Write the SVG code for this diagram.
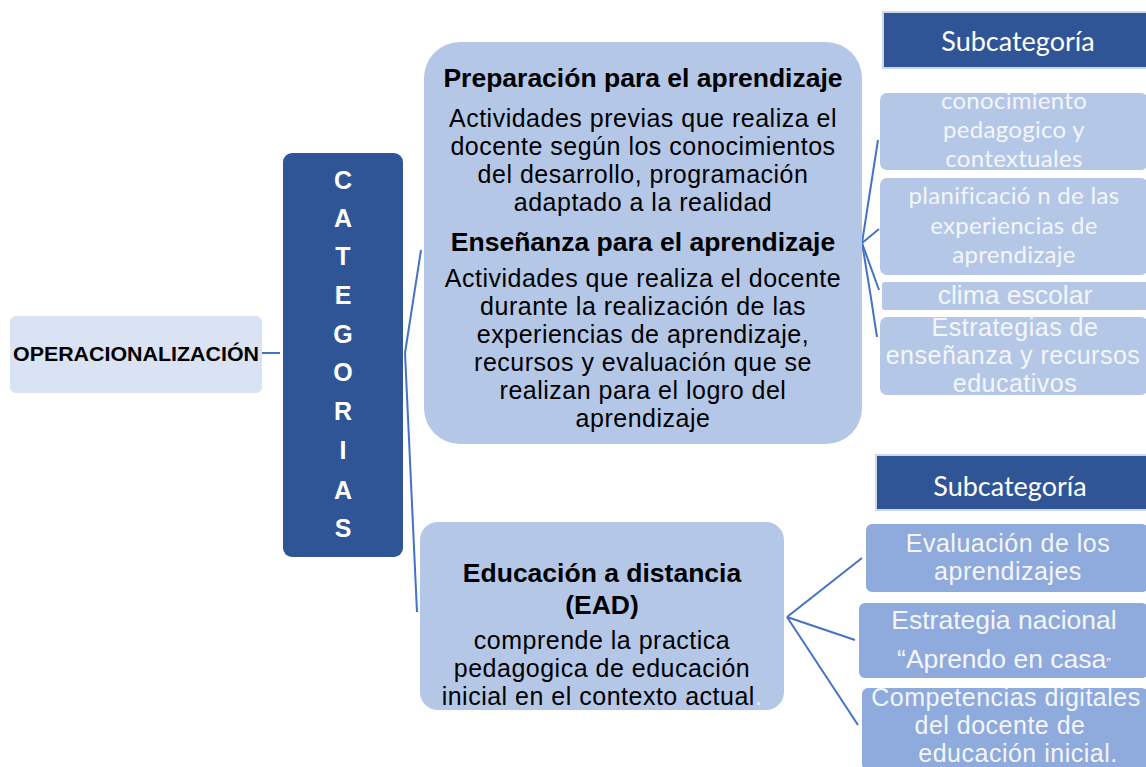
<svg xmlns="http://www.w3.org/2000/svg" width="1146" height="767" viewBox="0 0 1146 767">
<style>
.ar{font-family:"Liberation Sans",Arial,sans-serif;}
.cal{font-family:Lato,"Open Sans",sans-serif;}
.blk{fill:#000;}
.wht{fill:#f4f6fb;}
.b{font-weight:bold;}
.t26{font-size:26.5px;}
.t25{font-size:25px;letter-spacing:0.5px;}
.conn{fill:none;stroke:#4472c4;stroke-width:2;}
.dark{fill:#2f5597;}
.mid{fill:#b4c7e7;}
.med{fill:#8faadc;}
</style>
<rect width="1146" height="767" fill="#ffffff"/>
<g id="connectors">
<line class="conn" x1="262" y1="353" x2="280" y2="353"/>
<path class="conn" d="M405,353 L421,250"/>
<path class="conn" d="M405,353 L417,612"/>
<path class="conn" d="M862,243 Q870,190 878,140"/>
<path class="conn" d="M862,243 L879,229"/>
<path class="conn" d="M862,243 L879,290"/>
<path class="conn" d="M862,243 Q870,290 877,337"/>
<path class="conn" d="M787,617 L862,558"/>
<path class="conn" d="M787,617 L855,640"/>
<path class="conn" d="M787,617 L858,725"/>
</g>
<g id="node-operacionalizacion">
<rect x="10" y="316" width="252" height="77" rx="6" fill="#dae3f3"/>
<text class="ar b blk" x="136" y="361" font-size="20.5" text-anchor="middle" textLength="246" lengthAdjust="spacingAndGlyphs">OPERACIONALIZACIÓN</text>
</g>
<g id="node-categorias">
<rect class="dark" x="283" y="153" width="120" height="404" rx="9"/>
<g class="ar b" font-size="25" fill="#ffffff" text-anchor="middle">
<text x="343" y="189">C</text>
<text x="343" y="227">A</text>
<text x="343" y="265">T</text>
<text x="343" y="304">E</text>
<text x="343" y="343">G</text>
<text x="343" y="381">O</text>
<text x="343" y="420">R</text>
<text x="343" y="459">I</text>
<text x="343" y="499">A</text>
<text x="343" y="537">S</text>
</g>
</g>
<g id="node-preparacion-ensenanza">
<rect class="mid" x="424" y="42" width="438" height="402" rx="36"/>
<g class="ar blk" text-anchor="middle">
<text class="b t26" x="643" y="87">Preparación para el aprendizaje</text>
<text class="t25" x="643" y="127">Actividades previas que realiza el</text>
<text class="t25" x="643" y="155">docente según los conocimientos</text>
<text class="t25" x="643" y="183">del desarrollo, programación</text>
<text class="t25" x="643" y="211">adaptado a la realidad</text>
<text class="b t26" x="643" y="251">Enseñanza para el aprendizaje</text>
<text class="t25" x="643" y="287">Actividades que realiza el docente</text>
<text class="t25" x="643" y="315">durante  la realización de las</text>
<text class="t25" x="643" y="343">experiencias de aprendizaje,</text>
<text class="t25" x="643" y="371">recursos y evaluación que se</text>
<text class="t25" x="643" y="399">realizan para el logro del</text>
<text class="t25" x="643" y="427">aprendizaje</text>
</g>
</g>
<g id="node-ead">
<rect class="mid" x="420" y="522" width="364" height="188" rx="18"/>
<g class="ar blk" text-anchor="middle">
<text class="b t26" x="602" y="582">Educación a distancia</text>
<text class="b t26" x="602" y="614">(EAD)</text>
<text class="t25" x="602" y="649">comprende la practica</text>
<text class="t25" x="602" y="677">pedagogica de educación</text>
<text class="t25" x="602" y="705">inicial en el contexto actual<tspan fill="#e8edf7">.</tspan></text>
</g>
</g>
<g id="node-subcategoria-1">
<rect class="dark" x="883" y="12" width="265" height="56" stroke="#cfd8ea" stroke-width="2"/>
<text class="cal" x="1018" y="51" font-size="27" fill="#ffffff" text-anchor="middle">Subcategoría</text>
</g>
<g id="node-conocimiento">
<rect class="mid" x="880" y="93" width="268" height="77" rx="7"/>
<g class="cal wht" font-size="24" letter-spacing="0.3" text-anchor="middle">
<text x="1014" y="109">conocimiento</text>
<text x="1014" y="138">pedagogico y</text>
<text x="1014" y="167">contextuales</text>
</g>
</g>
<g id="node-planificacion">
<rect class="mid" x="880" y="178" width="268" height="97" rx="7"/>
<g class="cal wht" font-size="24" letter-spacing="0.3" text-anchor="middle">
<text x="1014" y="204">planificació n de las</text>
<text x="1014" y="234">experiencias  de</text>
<text x="1014" y="263">aprendizaje</text>
</g>
</g>
<g id="node-clima">
<rect class="mid" x="882" y="282" width="266" height="28" rx="3"/>
<text class="ar t26 wht" x="1015" y="304" text-anchor="middle">clima escolar</text>
</g>
<g id="node-estrategias">
<rect class="mid" x="880" y="317" width="268" height="78" rx="7"/>
<g class="ar t25 wht" text-anchor="middle">
<text x="1015" y="336">Estrategias de</text>
<text x="1013" y="364">enseñanza y recursos</text>
<text x="1015" y="392">educativos</text>
</g>
</g>
<g id="node-subcategoria-2">
<rect class="dark" x="876" y="455" width="272" height="55" stroke="#cfd8ea" stroke-width="2"/>
<text class="cal" x="1010" y="496" font-size="27" fill="#ffffff" text-anchor="middle">Subcategoría</text>
</g>
<g id="node-evaluacion">
<rect class="med" x="866" y="524" width="282" height="68" rx="6"/>
<g class="ar t25 wht" text-anchor="middle">
<text x="1008" y="552">Evaluación de los</text>
<text x="1008" y="580">aprendizajes</text>
</g>
</g>
<g id="node-estrategia-nacional">
<rect class="med" x="859" y="603" width="289" height="75" rx="6"/>
<g class="ar t26 wht" text-anchor="middle">
<text x="1004" y="629">Estrategia nacional</text>
<text x="1004" y="668">“Aprendo en casa<tspan font-size="14">”</tspan></text>
</g>
</g>
<g id="node-competencias">
<rect class="med" x="862" y="688" width="286" height="82" rx="6"/>
<g class="ar t25 wht" text-anchor="middle">
<text x="1006" y="706">Competencias digitales</text>
<text x="1000" y="734">del docente de</text>
<text x="1018" y="762">educación inicial.</text>
</g>
</g>
</svg>
